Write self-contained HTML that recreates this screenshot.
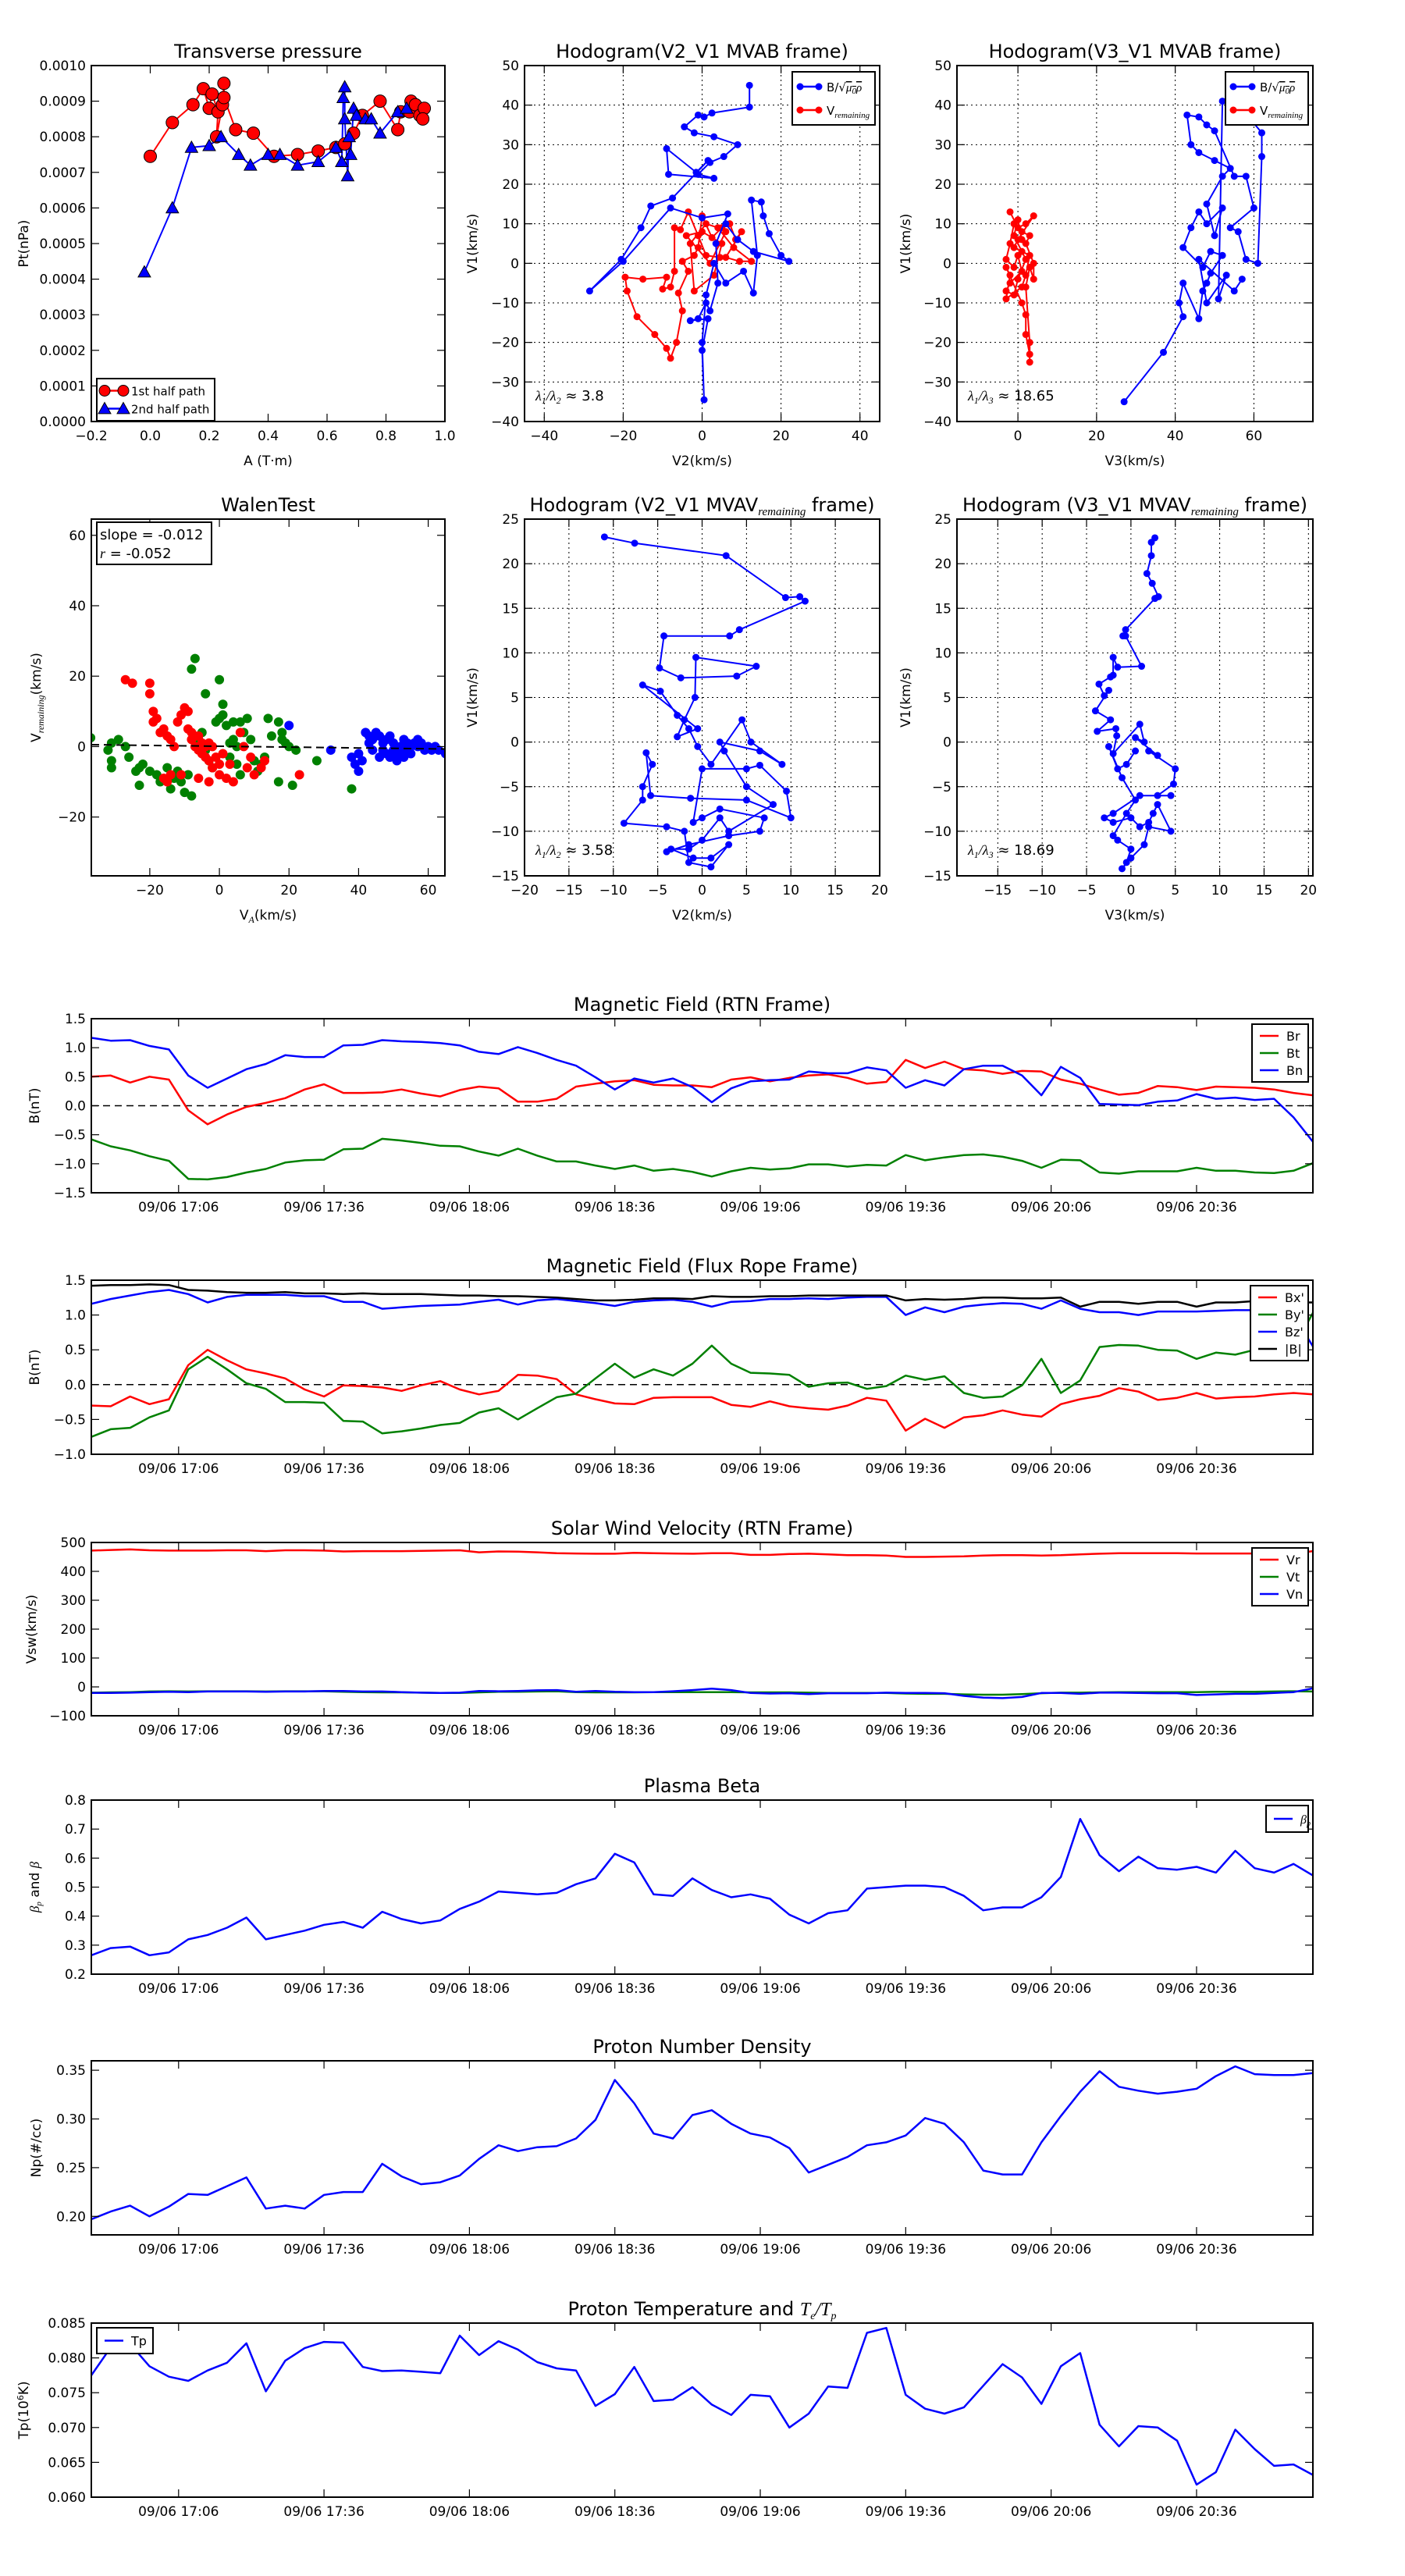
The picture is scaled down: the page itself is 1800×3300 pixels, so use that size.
<!DOCTYPE html>
<html><head><meta charset="utf-8"><title>Flux rope analysis</title>
<style>
html,body{margin:0;padding:0;background:#fff;}
svg{display:block;font-family:"DejaVu Sans","Liberation Sans",sans-serif;}
</style></head>
<body>
<svg id="fig" xmlns="http://www.w3.org/2000/svg" width="1800" height="3300" viewBox="0 0 1800 3300">
<rect x="0" y="0" width="1800" height="3300" fill="#fff"/>
</svg>
<script>
// ---------- time-series data (one value per 4-minute sample, 16:48 – 21:00) ----------
const timeTickLabels = ["09/06 17:06","09/06 17:36","09/06 18:06","09/06 18:36","09/06 19:06","09/06 19:36","09/06 20:06","09/06 20:36"];
const timeTickMinutes = [18,48,78,108,138,168,198,228];
const brVals = [0.5,0.52,0.4,0.5,0.45,-0.08,-0.32,-0.15,-0.02,0.05,0.13,0.28,0.37,0.22,0.22,0.23,0.28,0.21,0.16,0.27,0.33,0.30,0.07,0.07,0.12,0.33,0.38,0.42,0.44,0.36,0.35,0.35,0.32,0.45,0.49,0.42,0.48,0.52,0.54,0.48,0.38,0.41,0.79,0.65,0.76,0.63,0.61,0.55,0.60,0.59,0.45,0.38,0.28,0.19,0.22,0.34,0.32,0.27,0.33,0.32,0.31,0.28,0.22,0.18];
const btVals = [-0.58,-0.70,-0.77,-0.87,-0.95,-1.26,-1.27,-1.23,-1.15,-1.09,-0.98,-0.94,-0.93,-0.75,-0.74,-0.57,-0.60,-0.64,-0.69,-0.70,-0.79,-0.86,-0.74,-0.86,-0.96,-0.96,-1.03,-1.09,-1.03,-1.12,-1.09,-1.14,-1.22,-1.13,-1.07,-1.10,-1.08,-1.01,-1.01,-1.05,-1.02,-1.03,-0.85,-0.94,-0.89,-0.85,-0.84,-0.88,-0.95,-1.07,-0.93,-0.94,-1.15,-1.17,-1.13,-1.13,-1.13,-1.07,-1.12,-1.12,-1.15,-1.16,-1.12,-0.99];
const bnVals = [1.17,1.12,1.13,1.03,0.97,0.52,0.31,0.47,0.63,0.72,0.87,0.84,0.84,1.04,1.05,1.13,1.11,1.10,1.08,1.04,0.93,0.89,1.01,0.91,0.79,0.69,0.49,0.28,0.47,0.40,0.47,0.32,0.06,0.30,0.42,0.44,0.45,0.59,0.56,0.56,0.66,0.61,0.31,0.44,0.35,0.63,0.69,0.69,0.52,0.18,0.67,0.48,0.03,0.02,0.01,0.07,0.09,0.20,0.12,0.14,0.10,0.12,-0.20,-0.62];
const bxpVals = [-0.30,-0.31,-0.17,-0.28,-0.21,0.28,0.50,0.35,0.22,0.16,0.09,-0.07,-0.17,-0.01,-0.02,-0.04,-0.09,-0.01,0.05,-0.07,-0.14,-0.09,0.14,0.13,0.08,-0.14,-0.21,-0.27,-0.28,-0.19,-0.18,-0.18,-0.18,-0.29,-0.32,-0.24,-0.31,-0.34,-0.36,-0.30,-0.19,-0.23,-0.66,-0.49,-0.62,-0.47,-0.44,-0.37,-0.43,-0.46,-0.28,-0.21,-0.16,-0.05,-0.10,-0.22,-0.19,-0.12,-0.20,-0.18,-0.17,-0.14,-0.12,-0.14];
const bypVals = [-0.75,-0.64,-0.62,-0.47,-0.37,0.22,0.40,0.22,0.02,-0.06,-0.25,-0.25,-0.26,-0.52,-0.53,-0.70,-0.67,-0.63,-0.58,-0.55,-0.40,-0.34,-0.50,-0.34,-0.18,-0.13,0.09,0.30,0.10,0.22,0.13,0.30,0.56,0.30,0.17,0.16,0.14,-0.03,0.02,0.03,-0.06,-0.02,0.13,0.07,0.12,-0.12,-0.19,-0.17,-0.01,0.37,-0.12,0.06,0.54,0.57,0.56,0.50,0.49,0.37,0.46,0.43,0.50,0.50,0.52,1.03];
const bzpVals = [1.16,1.23,1.28,1.33,1.36,1.30,1.18,1.26,1.29,1.29,1.29,1.27,1.27,1.19,1.19,1.09,1.11,1.13,1.14,1.15,1.19,1.22,1.15,1.21,1.23,1.20,1.17,1.13,1.19,1.21,1.22,1.19,1.12,1.19,1.20,1.23,1.23,1.24,1.23,1.25,1.26,1.26,1.00,1.11,1.04,1.12,1.15,1.17,1.16,1.09,1.21,1.09,1.04,1.04,1.00,1.05,1.05,1.05,1.06,1.07,1.07,1.06,1.00,0.55];
const bmagVals = [1.42,1.43,1.43,1.44,1.43,1.36,1.35,1.33,1.32,1.32,1.33,1.31,1.31,1.30,1.31,1.30,1.30,1.30,1.29,1.28,1.28,1.27,1.27,1.26,1.25,1.23,1.21,1.21,1.22,1.24,1.24,1.23,1.27,1.26,1.26,1.27,1.27,1.28,1.28,1.28,1.28,1.28,1.21,1.23,1.22,1.23,1.25,1.25,1.24,1.24,1.25,1.12,1.19,1.19,1.16,1.19,1.19,1.12,1.18,1.18,1.20,1.20,1.18,1.18];
const vrVals = [472,474,476,473,472,472,472,473,473,470,473,473,472,469,470,470,470,471,472,473,466,469,468,466,463,462,461,461,464,463,462,461,463,463,457,457,460,461,459,456,456,455,450,450,451,452,455,456,456,455,456,459,461,463,463,463,463,462,462,462,462,462,462,470];
const vtVals = [-20,-19,-18,-16,-15,-16,-15,-15,-15,-16,-15,-15,-15,-17,-18,-19,-19,-20,-21,-21,-19,-17,-17,-16,-15,-18,-19,-19,-19,-18,-18,-18,-18,-18,-19,-19,-19,-20,-21,-21,-21,-21,-23,-24,-24,-26,-27,-27,-25,-22,-20,-20,-19,-18,-18,-18,-18,-18,-17,-17,-17,-16,-15,-16];
const vnVals = [-21,-21,-20,-18,-17,-18,-16,-16,-16,-17,-16,-16,-14,-14,-16,-16,-18,-20,-21,-20,-14,-15,-14,-12,-11,-17,-14,-17,-18,-18,-15,-11,-6,-11,-21,-23,-22,-25,-22,-22,-22,-20,-21,-21,-22,-31,-37,-39,-35,-21,-21,-24,-20,-20,-21,-22,-22,-28,-26,-24,-24,-21,-18,-5];
const betaVals = [0.265,0.29,0.295,0.265,0.275,0.32,0.335,0.36,0.395,0.32,0.335,0.35,0.37,0.38,0.36,0.415,0.39,0.375,0.385,0.425,0.45,0.485,0.48,0.475,0.48,0.51,0.53,0.615,0.585,0.475,0.47,0.53,0.49,0.465,0.475,0.46,0.405,0.375,0.41,0.42,0.495,0.5,0.505,0.505,0.5,0.47,0.42,0.43,0.43,0.465,0.535,0.735,0.61,0.555,0.605,0.565,0.56,0.57,0.55,0.625,0.565,0.55,0.58,0.54];
const npVals = [0.197,0.205,0.211,0.200,0.210,0.223,0.222,0.231,0.240,0.208,0.211,0.208,0.222,0.225,0.225,0.254,0.241,0.233,0.235,0.242,0.259,0.273,0.267,0.271,0.272,0.280,0.299,0.340,0.316,0.285,0.280,0.304,0.309,0.295,0.285,0.281,0.270,0.245,0.253,0.261,0.273,0.276,0.283,0.301,0.295,0.276,0.247,0.243,0.243,0.276,0.303,0.328,0.349,0.333,0.329,0.326,0.328,0.331,0.344,0.354,0.346,0.345,0.345,0.347];
const tpVals = [0.0775,0.0815,0.0820,0.0788,0.0773,0.0767,0.0782,0.0793,0.0821,0.0752,0.0796,0.0814,0.0823,0.0822,0.0787,0.0781,0.0782,0.0780,0.0778,0.0832,0.0804,0.0824,0.0812,0.0794,0.0785,0.0782,0.0731,0.0748,0.0787,0.0738,0.0740,0.0758,0.0733,0.0718,0.0747,0.0745,0.0700,0.0720,0.0759,0.0757,0.0836,0.0843,0.0747,0.0727,0.0720,0.0729,0.0760,0.0791,0.0772,0.0734,0.0788,0.0807,0.0704,0.0673,0.0702,0.0700,0.0681,0.0618,0.0636,0.0697,0.0669,0.0645,0.0647,0.0632];

// ---------- scatter / hodogram data ----------
const ptRedA  = [0.0,0.075,0.145,0.18,0.2,0.21,0.23,0.225,0.245,0.25,0.25,0.29,0.35,0.42,0.5,0.57,0.63,0.66,0.69,0.72,0.78,0.84,0.85,0.88,0.885,0.9,0.915,0.93,0.925];
const ptRedPt = [0.000745,0.00084,0.00089,0.000935,0.00088,0.00092,0.00087,0.0008,0.00089,0.00095,0.00091,0.00082,0.00081,0.000745,0.00075,0.00076,0.00077,0.00078,0.00081,0.00086,0.0009,0.00082,0.00087,0.00087,0.0009,0.00089,0.00086,0.00088,0.00085];
const ptBlueA  = [-0.02,0.075,0.14,0.2,0.24,0.3,0.34,0.4,0.44,0.5,0.57,0.63,0.65,0.655,0.66,0.66,0.67,0.675,0.68,0.69,0.7,0.73,0.75,0.78,0.84,0.87];
const ptBluePt = [0.00042,0.0006,0.00077,0.000775,0.0008,0.00075,0.00072,0.00075,0.00075,0.00072,0.00073,0.00077,0.00073,0.00091,0.00094,0.00085,0.00069,0.0008,0.00075,0.00088,0.00086,0.00085,0.00085,0.00081,0.00087,0.00088];
const hodo1B = [[12,45],[12,39.5],[2.5,38],[0.5,37],[-1,37.5],[-4.5,34.5],[-2,33],[3,32],[9,30],[5.5,27],[2,25.5],[-1,22.5],[3,21.5],[-8.5,22.5],[-9,29],[-1.5,23],[1.5,26],[-7.5,16.5],[-13,14.5],[-15.5,9],[-20.5,1],[-28.5,-7],[-20,0.5],[-8,14],[0,11.5],[6.5,12.5],[3.5,5],[4,-5],[2,-12],[1,-10],[-1,-14],[-3,-14.5],[1.5,-14],[0,-22],[0.5,-34.5],[0,-20],[1,-8],[3,0],[6,-5],[10.5,-2],[13,-7.5],[14,2],[12.5,16],[15,15.5],[15.5,12],[17,7.5],[20,2],[22,0.5],[13,3],[9,6],[6,10]];
const hodo1V = [[4.5,1.5],[1,2],[-1,7],[-3.5,13],[-5.5,8.5],[-7,9],[-7,-2],[-8,-6],[-10,-6.5],[-9,-3.5],[-15,-4],[-19.5,-3.5],[-19,-7],[-16.5,-13.5],[-12,-18],[-9,-21.5],[-8,-24],[-6.5,-20],[-5,-12],[-6,-7.5],[-3.5,-2],[-5,0.5],[-2,2],[-1,4],[0,12],[2.5,6.5],[5,9],[7,10],[8.5,6],[10,8],[6,1.5],[9.5,0.5],[12.5,0.5],[8,4],[4,9],[1,10],[-3,5],[-2,-7],[3,-3],[5,5],[0,8],[-4,7],[2,0],[6,8]];
const hodo2B = [[27,-35],[37,-22.5],[42,-13.5],[41,-10],[42,-5],[46,-14],[47,-7],[48,-5],[49,-2.5],[52,2],[49,3],[47,-1],[42,4],[44,9],[46,13],[48,10],[52,14],[50,7],[48,15],[52,22],[54,24],[50,26],[46,28],[44,30],[43,37.5],[46,37],[48,35],[50,33.5],[55,22],[58,22],[60,14],[54,9],[56,8],[58,1],[61,0],[62,27],[62,33],[57,39],[52,41],[51,-9],[53,-3],[48,-10],[46,1],[55,-7],[57,-4]];
const hodo2V = [[-2,13],[0,9],[2,10],[4,12],[0,6],[-1,4],[1,3],[3,2],[2,-3],[1,-6],[-3,-9],[-2,-3],[-3,-1],[1,-10],[2,-13],[2,-18],[3,-23],[3,-25],[3,-20],[2,-6],[3,-1],[4,-4],[4,0],[2,5],[3,7],[1,8],[-1,10],[-2,5],[-3,1],[-1,-1],[0,2],[1,-2],[-2,-5],[-3,-7],[-1,-8],[0,-4],[2,1],[-1,7],[0,11],[1,6]];
const hodo3B = [[-11,23],[-7.6,22.3],[2.7,20.9],[9.4,16.2],[11,16.3],[11.6,15.8],[4.2,12.6],[3.1,11.9],[-4.3,11.9],[-4.8,8.3],[-2.4,7.2],[3.9,7.4],[6.1,8.5],[-0.7,9.5],[-0.8,5],[-2,2.5],[-2.8,0.6],[-0.5,1.5],[-6.7,6.4],[-4.7,5.7],[-2.8,3],[-1.5,1.5],[-0.5,-0.5],[1,-2.5],[4.5,2.5],[5.5,0],[9,-2.5],[6.5,-1],[2,0],[2.5,-1],[5,-5],[8,-7],[3,-10],[2,-8.5],[0,-11],[-1.5,-12],[-3.5,-12],[-1,-13],[1,-13],[3,-11.5],[1,-14],[-1.5,-13.5],[-2,-10],[-4,-9.5],[-8.8,-9.1],[-6.7,-6.5],[-6.7,-5],[-5.6,-2.5],[-6.3,-1.2],[-5.8,-6],[-1.3,-6.3],[5,-6.5],[10,-8.5],[9.5,-5.5],[6.5,-2.6],[5,-3],[0,-3],[-1,-9],[0,-8.5],[2,-7.5],[7,-8.5],[6.5,-10],[3,-10.5],[-1.5,-11.5],[-4,-12.3]];
const hodo4B = [[2.7,22.9],[2.3,22.4],[2.3,20.9],[1.8,18.9],[2.4,17.8],[3.1,16.3],[2.7,16.1],[-0.6,12.6],[-0.9,11.9],[-0.6,11.9],[1.2,8.5],[-1.5,8.4],[-2,9.5],[-2,7.5],[-2.3,7.3],[-3.6,6.5],[-3,5.2],[-2.5,5.8],[-4,3.5],[-2.3,2.5],[-3.8,1.2],[-1.7,1.5],[-1.6,0.7],[-2,-1.3],[1,2],[1.5,0],[0.5,0.5],[3,-1.5],[2,-1],[5,-3],[4.8,-4.7],[3,-6],[4.5,-6],[1,-6],[-2,-8],[-3,-8.5],[-2,-9],[0,-8.5],[1,-9.5],[2,-9],[2.5,-8],[3,-7],[4.5,-10],[2,-9.5],[1.5,-11.5],[0,-13],[-1,-14.2],[-0.5,-13.5],[0,-12],[-1.5,-11],[-2,-10.5],[-0.5,-8],[0.5,-6.5],[-1,-4],[-2.5,-0.5],[-1.5,-3],[-0.5,-2.5],[0.5,-1]];
const walenGreen = [[-37,2.5],[-31,1],[-32,-1],[-31,-4],[-31,-6],[-29,2],[-27,0],[-26,-3],[-24,-7],[-23,-11],[-23,-6],[-22,-5],[-20,-7],[-18,-8],[-17,-10],[-15,-6],[-14,-12],[-13,-9],[-12,-7],[-11,-10],[-10,-13],[-9,-8],[-8,-14],[-7,25],[-8,22],[-4,15],[-6,2],[-5,4],[-4,-1],[-3,-4],[-2,-6],[-1,7],[0,8],[0,19],[1,12],[1,9],[2,6],[3,1],[3,-3],[4,7],[4,2],[5,0],[5,-5],[6,-8],[6,7],[7,4],[8,8],[10,-4],[11,-7],[12,-5],[13,-3],[14,8],[15,3],[17,-10],[17,7],[18,2],[19,1],[20,0],[21,-11],[22,-1],[28,-4],[38,-12],[18,4],[9,2]];
const walenRed = [[-27,19],[-25,18],[-20,18],[-20,15],[-19,10],[-19,7],[-18,8],[-17,4],[-16,5],[-15,3],[-14,2],[-13,0],[-12,7],[-11,9],[-10,11],[-9,10],[-9,5],[-8,4],[-7,3],[-8,2],[-7,0],[-6,-1],[-6,3],[-5,1],[-5,-2],[-4,0],[-4,-3],[-3,1],[-3,-4],[-2,0],[-1,-3],[0,-5],[0,-8],[-2,-6],[1,-2],[2,-9],[3,-5],[4,-10],[6,4],[7,0],[8,-6],[9,-3],[10,-8],[12,-6],[13,-4],[-14,-8],[-15,-10],[-16,-9],[-11,-8],[23,-8],[-6,-9],[-3,-10]];
const walenBlue = [[20,6],[32,-1],[38,-3],[39,-5],[40,-7],[40,-2],[41,-4],[42,4],[43,3],[44,2],[45,4],[46,3],[47,1],[48,2],[49,3],[50,1],[50,-1],[51,-3],[52,0],[52,-2],[53,2],[53,-3],[54,1],[54,-1],[55,-2],[56,1],[57,0],[58,1],[59,-1],[60,0],[61,-1],[62,0],[63,-1],[65,-2],[48,-2],[47,-1],[46,-3],[44,-1],[43,1],[51,-4],[49,-3],[55,0],[57,2]];
const walenSlope = -0.012;
const walenIntercept = 0.1;

const NS = "http://www.w3.org/2000/svg";
const svg = document.getElementById('fig');
let clipId = 0;
function mk(tag, attrs, parent) {
  const e = document.createElementNS(NS, tag);
  for (const k in attrs) e.setAttribute(k, attrs[k]);
  (parent || svg).appendChild(e);
  return e;
}
function fmt(v, d) { const s = Math.abs(v).toFixed(d); return (v < -1e-12 ? '\u2212' : '') + s; }

function makeAxes(c) {
  const g = mk('g', {});
  
  
  const sx = v => c.x0 + (v - c.xmin) / (c.xmax - c.xmin) * (c.x1 - c.x0);
  const sy = v => c.y1 - (v - c.ymin) / (c.ymax - c.ymin) * (c.y1 - c.y0);
  const id = 'clip' + (clipId++);
  const cp = mk('clipPath', { id: id }, g);
  mk('rect', { x: c.x0, y: c.y0, width: c.x1 - c.x0, height: c.y1 - c.y0 }, cp);
  if (c.grid) {
    c.xticks.forEach(t => {
      const gl = mk('line', { x1: sx(t), x2: sx(t), y1: c.y0, y2: c.y1, stroke: '#000', 'stroke-width': 1, 'stroke-dasharray': '2,4' }, g);
      
      
    });
    c.yticks.forEach(t => {
      const gl = mk('line', { x1: c.x0, x2: c.x1, y1: sy(t), y2: sy(t), stroke: '#000', 'stroke-width': 1, 'stroke-dasharray': '2,4' }, g);
      
      
    });
  }
  const plot = mk('g', { 'clip-path': 'url(#' + id + ')' }, g);
  
  
  const tk = 10;
  c.xticks.forEach((t, i) => {
    const x = sx(t);
    mk('line', { x1: x, x2: x, y1: c.y1, y2: c.y1 - tk, stroke: '#000', 'stroke-width': 1.2 }, g);
    mk('line', { x1: x, x2: x, y1: c.y0, y2: c.y0 + tk, stroke: '#000', 'stroke-width': 1.2 }, g);
    const lab = mk('text', { x: x, y: c.y1 + 24, 'text-anchor': 'middle', 'font-size': c.tickFs || 17 }, g);
    lab.textContent = c.xlabels[i];
    
    
  });
  c.yticks.forEach((t, i) => {
    const y = sy(t);
    mk('line', { x1: c.x0, x2: c.x0 + tk, y1: y, y2: y, stroke: '#000', 'stroke-width': 1.2 }, g);
    mk('line', { x1: c.x1, x2: c.x1 - tk, y1: y, y2: y, stroke: '#000', 'stroke-width': 1.2 }, g);
    const lab = mk('text', { x: c.x0 - 7, y: y + 6, 'text-anchor': 'end', 'font-size': c.tickFs || 17 }, g);
    lab.textContent = c.ylabels[i];
    
    
  });
  const fr = mk('rect', { x: c.x0, y: c.y0, width: c.x1 - c.x0, height: c.y1 - c.y0, fill: 'none', stroke: '#000', 'stroke-width': 2 }, g);
  
  
  const ti = mk('text', { x: (c.x0 + c.x1) / 2, y: c.y0 - 10, 'text-anchor': 'middle', 'font-size': 24 }, g);
  ti.innerHTML = c.title;
  
  
  if (c.xtitle) {
    const xt = mk('text', { x: (c.x0 + c.x1) / 2, y: c.y1 + 56, 'text-anchor': 'middle', 'font-size': 17 }, g);
    xt.innerHTML = c.xtitle;
    
    
  }
  if (c.ytitle) {
    const yx = c.ytitleX, yy = (c.y0 + c.y1) / 2;
    const yt = mk('text', { x: yx, y: yy, 'text-anchor': 'middle', 'font-size': 17, transform: 'rotate(-90 ' + yx + ' ' + yy + ')' }, g);
    yt.innerHTML = c.ytitle;
    
    
  }
  return { g, plot, sx, sy };
}

function polyPts(ax, xs, ys) { return xs.map((x, i) => ax.sx(x).toFixed(1) + ',' + ax.sy(ys[i]).toFixed(1)).join(' '); }

function drawLine(ax, xs, ys, color, name, w) {
  const pl = mk('polyline', { points: polyPts(ax, xs, ys), fill: 'none', stroke: color, 'stroke-width': w || 2.5, 'stroke-linejoin': 'round' }, ax.plot);
  
  
  return pl;
}

function legend(x, y, w, entries, name, opts) {
  opts = opts || {};
  const rowH = opts.rowH || 35;
  const g = mk('g', {});
  
  
  mk('rect', { x: x, y: y, width: w, height: entries.length * rowH + 8, fill: '#fff', stroke: '#000', 'stroke-width': 2 }, g);
  entries.forEach((e, i) => {
    const cy = y + 4 + rowH * i + rowH / 2;
    const it = mk('g', {}, g);
    
    
    mk('line', { x1: x + 10, x2: x + 34, y1: cy, y2: cy, stroke: e.color, 'stroke-width': 2.5 }, it);
    if (e.marker === 'circle') {
      mk('circle', { cx: x + 10, cy: cy, r: opts.mr || 4, fill: e.color, stroke: opts.mstroke || e.color }, it);
      mk('circle', { cx: x + 34, cy: cy, r: opts.mr || 4, fill: e.color, stroke: opts.mstroke || e.color }, it);
    } else if (e.marker === 'tri') {
      [x + 10, x + 34].forEach(px => mk('polygon', { points: triPts(px, cy, 8), fill: e.color, stroke: '#000' }, it));
    }
    const t = mk('text', { x: x + 44, y: cy + 6, 'font-size': opts.fs || 16 }, it);
    t.innerHTML = e.label;
  });
}
function triPts(x, y, s) { return (x) + ',' + (y - s) + ' ' + (x - s) + ',' + (y + s * 0.8) + ' ' + (x + s) + ',' + (y + s * 0.8); }

function range(a, b, s) { const r = []; for (let v = a; v <= b + 1e-9; v += s) r.push(+v.toFixed(6)); return r; }

// column geometry
const C1 = [117, 570], C2 = [672, 1127], C3 = [1226, 1682];

// ================= Row 1 =================
(function () {
  const yt = range(0, 0.001, 0.0001);
  const xt = range(-0.2, 1.0, 0.2);
  const ax = makeAxes({ name: 'transverse-pressure-chart', x0: C1[0], x1: C1[1], y0: 84, y1: 540, xmin: -0.2, xmax: 1.0, ymin: 0, ymax: 0.001,
    xticks: xt, xlabels: xt.map(v => fmt(v, 1)), yticks: yt, ylabels: yt.map(v => v.toFixed(4)),
    title: 'Transverse pressure', xtitle: 'A (T\u00b7m)', ytitle: 'Pt(nPa)', ytitleX: 36 });
  drawLine(ax, ptRedA, ptRedPt, '#f00', 'first-half-path-line', 2);
  drawLine(ax, ptBlueA, ptBluePt, '#00f', 'second-half-path-line', 2);
  ptRedA.forEach((a, i) => {
    const c = mk('circle', { cx: ax.sx(a), cy: ax.sy(ptRedPt[i]), r: 8, fill: '#f00', stroke: '#000', 'stroke-width': 1 }, ax.plot);
    
    
  });
  ptBlueA.forEach((a, i) => {
    const p = mk('polygon', { points: triPts(ax.sx(a), ax.sy(ptBluePt[i]), 8), fill: '#00f', stroke: '#000', 'stroke-width': 1 }, ax.plot);
    
    
  });
  legend(124, 485, 151, [{ color: '#f00', marker: 'circle', label: '1st half path' }, { color: '#00f', marker: 'tri', label: '2nd half path' }], 'pressure-legend', { rowH: 23, mr: 7, mstroke: '#000', fs: 15 });
})();

function hodogram(cfg, bPts, vPts, lam, legendOn) {
  const ax = makeAxes(cfg);
  const drawSet = (pts, color, nm) => {
    drawLine(ax, pts.map(p => p[0]), pts.map(p => p[1]), color, nm + '-path', 2);
    pts.forEach(p => {
      const c = mk('circle', { cx: ax.sx(p[0]), cy: ax.sy(p[1]), r: 4, fill: color, stroke: color }, ax.plot);
      
      
    });
  };
  if (vPts) drawSet(vPts, '#f00', 'v-remaining');
  drawSet(bPts, '#00f', 'b-alfven');
  const lt = mk('text', { x: cfg.x0 + 14, y: cfg.y1 - 27, 'font-size': 18 }, ax.g);
  lt.innerHTML = lam;
  
  
  if (legendOn) legend(cfg.x1 - 112, cfg.y0 + 8, 106,
    [{ color: '#00f', marker: 'circle', label: 'B/\u221a<tspan font-style="italic" font-family="Liberation Serif" text-decoration="overline">\u03bc<tspan font-size="11" dy="3">0</tspan><tspan dy="-3">\u03c1</tspan></tspan>' },
     { color: '#f00', marker: 'circle', label: 'V<tspan font-style="italic" font-family="Liberation Serif" font-size="11" dy="4">remaining</tspan>' }],
    cfg.name + '-legend', { rowH: 30, fs: 15 });
  return ax;
}
const hy1 = range(-40, 50, 10);
hodogram({ name: 'hodogram-v2-v1-mvab', x0: C2[0], x1: C2[1], y0: 84, y1: 540, xmin: -45, xmax: 45, ymin: -40, ymax: 50, grid: true,
  xticks: range(-40, 40, 20), xlabels: range(-40, 40, 20).map(v => fmt(v, 0)), yticks: hy1, ylabels: hy1.map(v => fmt(v, 0)),
  title: 'Hodogram(V2_V1 MVAB frame)', xtitle: 'V2(km/s)', ytitle: 'V1(km/s)', ytitleX: 611 },
  hodo1B, hodo1V, '<tspan font-style="italic" font-family="Liberation Serif">\u03bb<tspan font-size="12" dy="4">1</tspan><tspan dy="-4">/\u03bb</tspan><tspan font-size="12" dy="4">2</tspan></tspan><tspan dy="-4"> \u2248 3.8</tspan>', true);
hodogram({ name: 'hodogram-v3-v1-mvab', x0: C3[0], x1: C3[1], y0: 84, y1: 540, xmin: -15.5, xmax: 75, ymin: -40, ymax: 50, grid: true,
  xticks: range(0, 60, 20), xlabels: range(0, 60, 20).map(v => fmt(v, 0)), yticks: hy1, ylabels: hy1.map(v => fmt(v, 0)),
  title: 'Hodogram(V3_V1 MVAB frame)', xtitle: 'V3(km/s)', ytitle: 'V1(km/s)', ytitleX: 1166 },
  hodo2B, hodo2V, '<tspan font-style="italic" font-family="Liberation Serif">\u03bb<tspan font-size="12" dy="4">1</tspan><tspan dy="-4">/\u03bb</tspan><tspan font-size="12" dy="4">3</tspan></tspan><tspan dy="-4"> \u2248 18.65</tspan>', true);

// ================= Row 2 =================
(function () {
  const yt = [-20, 0, 20, 40, 60], xt = [-20, 0, 20, 40, 60];
  const ax = makeAxes({ name: 'walen-test-chart', x0: C1[0], x1: C1[1], y0: 665, y1: 1122, xmin: -36.8, xmax: 64.8, ymin: -36.7, ymax: 64.6,
    xticks: xt, xlabels: xt.map(v => fmt(v, 0)), yticks: yt, ylabels: yt.map(v => fmt(v, 0)),
    title: 'WalenTest', xtitle: 'V<tspan font-style="italic" font-family="Liberation Serif" font-size="12" dy="4">A</tspan><tspan dy="-4">(km/s)</tspan>',
    ytitle: 'V<tspan font-style="italic" font-family="Liberation Serif" font-size="12" dy="4">remaining</tspan><tspan dy="-4">(km/s)</tspan>', ytitleX: 52 });
  const dots = (pts, color, nm) => pts.forEach(p => {
    const c = mk('circle', { cx: ax.sx(p[0]), cy: ax.sy(p[1]), r: 5.5, fill: color, stroke: color }, ax.plot);
    
    
  });
  dots(walenGreen, '#008000', 'walen-green-point');
  dots(walenRed, '#f00', 'walen-red-point');
  dots(walenBlue, '#00f', 'walen-blue-point');
  const fl = mk('line', { x1: ax.sx(-36.8), y1: ax.sy(walenIntercept + walenSlope * -36.8), x2: ax.sx(64.8), y2: ax.sy(walenIntercept + walenSlope * 64.8), stroke: '#000', 'stroke-width': 2, 'stroke-dasharray': '10,6' }, ax.plot);
  
  
  const box = mk('g', {});
  
  
  mk('rect', { x: 124, y: 669, width: 147, height: 54, fill: '#fff', stroke: '#000', 'stroke-width': 2 }, box);
  const t1 = mk('text', { x: 128, y: 691, 'font-size': 18 }, box);
  t1.textContent = 'slope = -0.012';
  const t2 = mk('text', { x: 128, y: 715, 'font-size': 18 }, box);
  t2.innerHTML = '<tspan font-style="italic" font-family="Liberation Serif">r</tspan> = -0.052';
})();
const hy2 = range(-15, 25, 5);
hodogram({ name: 'hodogram-v2-v1-mvav', x0: C2[0], x1: C2[1], y0: 665, y1: 1122, xmin: -20, xmax: 20, ymin: -15, ymax: 25, grid: true,
  xticks: range(-20, 20, 5), xlabels: range(-20, 20, 5).map(v => fmt(v, 0)), yticks: hy2, ylabels: hy2.map(v => fmt(v, 0)),
  title: 'Hodogram (V2_V1 MVAV<tspan font-style="italic" font-family="Liberation Serif" font-size="15" dy="5">remaining</tspan><tspan dy="-5"> frame)</tspan>', xtitle: 'V2(km/s)', ytitle: 'V1(km/s)', ytitleX: 611 },
  hodo3B, null, '<tspan font-style="italic" font-family="Liberation Serif">\u03bb<tspan font-size="12" dy="4">1</tspan><tspan dy="-4">/\u03bb</tspan><tspan font-size="12" dy="4">2</tspan></tspan><tspan dy="-4"> \u2248 3.58</tspan>', false);
hodogram({ name: 'hodogram-v3-v1-mvav', x0: C3[0], x1: C3[1], y0: 665, y1: 1122, xmin: -19.6, xmax: 20.5, ymin: -15, ymax: 25, grid: true,
  xticks: range(-15, 20, 5), xlabels: range(-15, 20, 5).map(v => fmt(v, 0)), yticks: hy2, ylabels: hy2.map(v => fmt(v, 0)),
  title: 'Hodogram (V3_V1 MVAV<tspan font-style="italic" font-family="Liberation Serif" font-size="15" dy="5">remaining</tspan><tspan dy="-5"> frame)</tspan>', xtitle: 'V3(km/s)', ytitle: 'V1(km/s)', ytitleX: 1166 },
  hodo4B, null, '<tspan font-style="italic" font-family="Liberation Serif">\u03bb<tspan font-size="12" dy="4">1</tspan><tspan dy="-4">/\u03bb</tspan><tspan font-size="12" dy="4">3</tspan></tspan><tspan dy="-4"> \u2248 18.69</tspan>', false);

// ================= Time series =================
const TS_X0 = 117, TS_X1 = 1682, TS_MIN = 252, TS_STEP = 4;
function timeSeries(c, series, dashedZero, leg) {
  const ax = makeAxes(Object.assign({ x0: TS_X0, x1: TS_X1, xmin: 0, xmax: TS_MIN, xticks: timeTickMinutes, xlabels: timeTickLabels, tickFs: 17 }, c));
  if (dashedZero) {
    const z = mk('line', { x1: TS_X0, x2: TS_X1, y1: ax.sy(0), y2: ax.sy(0), stroke: '#000', 'stroke-width': 1.5, 'stroke-dasharray': '9,6' }, ax.plot);
    
    
  }
  series.forEach(s => drawLine(ax, s.vals.map((v, i) => i * TS_STEP), s.vals, s.color, s.name, 2.5));
  if (leg) legend(leg.x, leg.y, leg.w, series.map(s => ({ color: s.color, label: s.label })), c.name + '-legend', { rowH: leg.rowH || 40, fs: 16 });
  return ax;
}
const yB1 = range(-1.5, 1.5, 0.5);
timeSeries({ name: 'magnetic-field-rtn-chart', y0: 1305, y1: 1528, ymin: -1.5, ymax: 1.5, yticks: yB1, ylabels: yB1.map(v => fmt(v, 1)),
  title: 'Magnetic Field (RTN Frame)', ytitle: 'B(nT)', ytitleX: 50 },
  [{ vals: brVals, color: '#f00', name: 'br-line', label: 'Br' }, { vals: btVals, color: '#008000', name: 'bt-line', label: 'Bt' }, { vals: bnVals, color: '#00f', name: 'bn-line', label: 'Bn' }],
  true, { x: 1604, y: 1312, w: 72, rowH: 22 });
const yB2 = range(-1.0, 1.5, 0.5);
timeSeries({ name: 'magnetic-field-flux-rope-chart', y0: 1640, y1: 1863, ymin: -1.0, ymax: 1.5, yticks: yB2, ylabels: yB2.map(v => fmt(v, 1)),
  title: 'Magnetic Field (Flux Rope Frame)', ytitle: 'B(nT)', ytitleX: 50 },
  [{ vals: bxpVals, color: '#f00', name: 'bx-prime-line', label: "Bx'" }, { vals: bypVals, color: '#008000', name: 'by-prime-line', label: "By'" }, { vals: bzpVals, color: '#00f', name: 'bz-prime-line', label: "Bz'" }, { vals: bmagVals, color: '#000', name: 'b-magnitude-line', label: '|B|' }],
  true, { x: 1602, y: 1647, w: 74, rowH: 22 });
const yV = range(-100, 500, 100);
timeSeries({ name: 'solar-wind-velocity-chart', y0: 1976, y1: 2198, ymin: -100, ymax: 500, yticks: yV, ylabels: yV.map(v => fmt(v, 0)),
  title: 'Solar Wind Velocity (RTN Frame)', ytitle: 'Vsw(km/s)', ytitleX: 46 },
  [{ vals: vrVals, color: '#f00', name: 'vr-line', label: 'Vr' }, { vals: vtVals, color: '#008000', name: 'vt-line', label: 'Vt' }, { vals: vnVals, color: '#00f', name: 'vn-line', label: 'Vn' }],
  false, { x: 1604, y: 1983, w: 72, rowH: 22 });
const yBeta = range(0.2, 0.8, 0.1);
timeSeries({ name: 'plasma-beta-chart', y0: 2306, y1: 2529, ymin: 0.2, ymax: 0.8, yticks: yBeta, ylabels: yBeta.map(v => fmt(v, 1)),
  title: 'Plasma Beta', ytitle: '<tspan font-style="italic" font-family="Liberation Serif">\u03b2<tspan font-size="11" dy="3">p</tspan></tspan><tspan dy="-3"> and </tspan><tspan font-style="italic" font-family="Liberation Serif">\u03b2</tspan>', ytitleX: 50 },
  [{ vals: betaVals, color: '#00f', name: 'beta-p-line', label: '<tspan font-style="italic" font-family="Liberation Serif">\u03b2<tspan font-size="10" dy="3">p</tspan></tspan>' }],
  false, { x: 1622, y: 2313, w: 54, rowH: 26 });
const yNp = range(0.2, 0.35, 0.05);
timeSeries({ name: 'proton-density-chart', y0: 2640, y1: 2863, ymin: 0.181, ymax: 0.3597, yticks: yNp, ylabels: yNp.map(v => v.toFixed(2)),
  title: 'Proton Number Density', ytitle: 'Np(#/cc)', ytitleX: 52 },
  [{ vals: npVals, color: '#00f', name: 'np-line', label: 'Np' }], false, null);
const yTp = range(0.06, 0.085, 0.005);
timeSeries({ name: 'proton-temperature-chart', y0: 2976, y1: 3199, ymin: 0.06, ymax: 0.085, yticks: yTp, ylabels: yTp.map(v => v.toFixed(3)),
  title: 'Proton Temperature and <tspan font-style="italic" font-family="Liberation Serif">T<tspan font-size="14" dy="5">e</tspan><tspan dy="-5">/T</tspan><tspan font-size="14" dy="5">p</tspan></tspan>', ytitle: 'Tp(10<tspan font-size="11" dy="-6">6</tspan><tspan dy="6">K)</tspan>', ytitleX: 36 },
  [{ vals: tpVals, color: '#00f', name: 'tp-line', label: 'Tp' }], false, { x: 124, y: 2982, w: 72, rowH: 25 });
</script>
</body></html>
